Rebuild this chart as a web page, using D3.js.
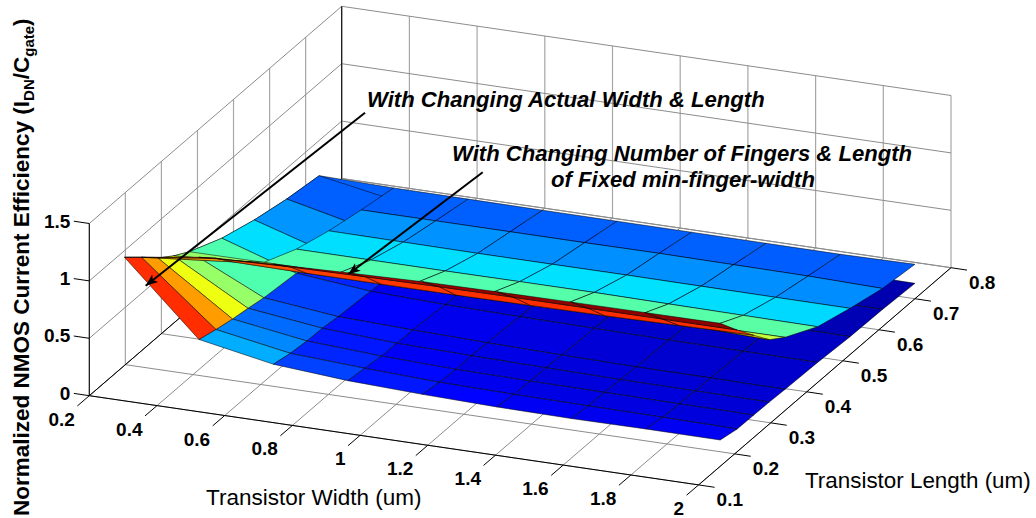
<!DOCTYPE html>
<html>
<head>
<meta charset="utf-8">
<script src="https://cdnjs.cloudflare.com/ajax/libs/d3/7.8.5/d3.min.js"></script>
<style>
  html, body { margin: 0; padding: 0; background: #fff; }
  text { font-family: "Liberation Sans", Arial, sans-serif; fill: #000; }
</style>
</head>
<body>
<div id="chart"></div>
<script>
// tick values
var widthTicks = [0.2, 0.4, 0.6, 0.8, 1, 1.2, 1.4, 1.6, 1.8, 2];
var lengthTicks = [0.1, 0.2, 0.3, 0.4, 0.5, 0.6, 0.7, 0.8];
var effTicks = [0, 0.5, 1, 1.5];

// mesh nodes
var widthNodes = [0.24, 0.46, 0.68, 0.90, 1.12, 1.34, 1.56, 1.78, 2.0];
var lengthNodes = [0.16, 0.207, 0.253, 0.296, 0.34, 0.43, 0.52, 0.61, 0.70];

// surface with changing actual width & length, one row per width node
var effActual = [
  [1.061, 0.934, 0.803, 0.705, 0.623, 0.497, 0.413, 0.352, 0.312],
  [0.440, 0.400, 0.367, 0.344, 0.317, 0.287, 0.215, 0.206, 0.195],
  [0.319, 0.287, 0.270, 0.265, 0.247, 0.225, 0.205, 0.190, 0.180],
  [0.271, 0.252, 0.234, 0.229, 0.226, 0.203, 0.190, 0.175, 0.165],
  [0.247, 0.225, 0.213, 0.216, 0.210, 0.194, 0.180, 0.168, 0.155],
  [0.232, 0.215, 0.206, 0.206, 0.198, 0.187, 0.172, 0.160, 0.150],
  [0.226, 0.210, 0.202, 0.198, 0.190, 0.180, 0.165, 0.155, 0.145],
  [0.230, 0.205, 0.198, 0.195, 0.188, 0.178, 0.160, 0.152, 0.140],
  [0.229, 0.198, 0.195, 0.192, 0.184, 0.175, 0.156, 0.150, 0.134]
];

// surface with changing number of fingers & length
var effFingers = [
  [1.061, 0.934, 0.803, 0.705, 0.623, 0.497, 0.413, 0.352, 0.312],
  [1.156, 1.020, 0.865, 0.750, 0.625, 0.497, 0.413, 0.352, 0.300],
  [1.190, 1.040, 0.860, 0.750, 0.625, 0.497, 0.410, 0.352, 0.298],
  [1.210, 1.050, 0.860, 0.745, 0.625, 0.497, 0.407, 0.352, 0.296],
  [1.228, 1.057, 0.860, 0.740, 0.630, 0.499, 0.407, 0.352, 0.295],
  [1.235, 1.060, 0.865, 0.745, 0.630, 0.500, 0.408, 0.354, 0.294],
  [1.240, 1.060, 0.870, 0.750, 0.632, 0.495, 0.406, 0.350, 0.293],
  [1.243, 1.060, 0.880, 0.755, 0.635, 0.490, 0.404, 0.346, 0.292],
  [1.245, 1.060, 0.890, 0.735, 0.637, 0.486, 0.403, 0.333, 0.300]
];

var width = 1036, height = 518;

var svg = d3.select("#chart").append("svg")
    .attr("width", width)
    .attr("height", height)
    .style("display", "block");

// the view is orthographic, so each data axis is just a screen vector
var originX = 89.3, originY = 395.7;
var wX = d3.scaleLinear().domain([0.2, 2]).range([0, 609.3]);
var wY = d3.scaleLinear().domain([0.2, 2]).range([0, 89.2]);
var lX = d3.scaleLinear().domain([0.1, 0.8]).range([0, 252.4]);
var lY = d3.scaleLinear().domain([0.1, 0.8]).range([0, -217.2]);
var zY = d3.scaleLinear().domain([0, 1.5]).range([0, -172.2]);

function project(w, l, z) {
  return [originX + wX(w) + lX(l), originY + wY(w) + lY(l) + zY(z)];
}

// jet colormap
var jetPos = d3.scaleLinear().domain([0.10, 1.256]).range([0, 1]).clamp(true);
var jet = d3.scaleLinear()
    .domain([0, 0.125, 0.375, 0.625, 0.875, 1])
    .range(["#000080", "#0000ff", "#00ffff", "#ffff00", "#ff0000", "#800000"]);

var poly = d3.line();

function seg(g, a, b, color, sw) {
  g.append("path")
    .attr("d", poly([a, b]))
    .attr("fill", "none")
    .attr("stroke", color)
    .attr("stroke-width", sw);
}

// grid on floor and walls
var grid = svg.append("g");
var gridColor = "#8c8c8c";
widthTicks.forEach(function(w) {
  seg(grid, project(w, 0.1, 0), project(w, 0.8, 0), gridColor, 1);
  seg(grid, project(w, 0.8, 0), project(w, 0.8, 1.5), "#a6a6a6", 1.2);
});
lengthTicks.forEach(function(l) {
  seg(grid, project(0.2, l, 0), project(2, l, 0), gridColor, 1);
  seg(grid, project(0.2, l, 0), project(0.2, l, 1.5), "#a6a6a6", 1.2);
});
effTicks.forEach(function(z) {
  seg(grid, project(0.2, 0.1, z), project(0.2, 0.8, z), gridColor, 1);
  seg(grid, project(0.2, 0.8, z), project(2, 0.8, z), gridColor, 1);
});

// axis lines and tick marks
var axes = svg.append("g");
seg(axes, project(0.2, 0.1, 0), project(2, 0.1, 0), "#000", 1);
seg(axes, project(2, 0.1, 0), project(2, 0.8, 0), "#000", 1);
seg(axes, project(0.2, 0.1, 0), project(0.2, 0.1, 1.5), "#000", 1);
seg(axes, project(0.2, 0.8, 0), project(0.2, 0.8, 1.5), "#000", 1);
seg(axes, project(0.2, 0.1, 0), project(0.2, 0.8, 0), "#000", 1);

widthTicks.forEach(function(w) {
  var p = project(w, 0.1, 0);
  seg(axes, p, [p[0] - 12, p[1] + 10.3], "#000", 1);
  axes.append("text")
    .attr("x", p[0] - 14.5)
    .attr("y", p[1] + 30)
    .attr("text-anchor", "end")
    .attr("font-size", 19)
    .attr("font-weight", "bold")
    .text(w);
});
lengthTicks.forEach(function(l) {
  var p = project(2, l, 0);
  seg(axes, p, [p[0] + 16, p[1] + 2.4], "#000", 1);
  axes.append("text")
    .attr("x", p[0] + 18)
    .attr("y", p[1] + 21.5)
    .attr("font-size", 19)
    .attr("font-weight", "bold")
    .text(l);
});
effTicks.forEach(function(z) {
  var p = project(0.2, 0.1, z);
  seg(axes, p, [p[0] - 15.5, p[1] - 2.3], "#000", 1);
  axes.append("text")
    .attr("x", p[0] - 19)
    .attr("y", p[1] + 4)
    .attr("text-anchor", "end")
    .attr("font-size", 19)
    .attr("font-weight", "bold")
    .text(z);
});

// one mesh cell, coloured by its first corner like matlab does
function drawCell(g, table, i, j) {
  var corners = [
    project(widthNodes[i], lengthNodes[j], table[i][j]),
    project(widthNodes[i + 1], lengthNodes[j], table[i + 1][j]),
    project(widthNodes[i + 1], lengthNodes[j + 1], table[i + 1][j + 1]),
    project(widthNodes[i], lengthNodes[j + 1], table[i][j + 1])
  ];
  g.append("path")
    .attr("d", poly(corners) + "Z")
    .attr("fill", jet(jetPos(table[i][j])))
    .attr("stroke", "#000")
    .attr("stroke-opacity", 0.75)
    .attr("stroke-width", 0.7)
    .attr("stroke-linejoin", "round");
}

var surf = svg.append("g");
var nW = widthNodes.length - 1, nL = lengthNodes.length - 1;
var i, j;

// painter order: low flat sheet, first column of both sheets, then the rest back to front
for (j = nL - 1; j >= 0; j--) {
  for (i = 1; i < nW; i++) drawCell(surf, effActual, i, j);
}
for (j = nL - 1; j >= 4; j--) drawCell(surf, effFingers, 0, j);
for (j = nL - 1; j >= 0; j--) drawCell(surf, effActual, 0, j);
for (j = nL - 1; j >= 0; j--) {
  for (i = (j < 4 ? 0 : 1); i < nW; i++) drawCell(surf, effFingers, i, j);
}

// axis labels
svg.append("text")
    .attr("x", 206)
    .attr("y", 505)
    .attr("font-size", 22.5)
    .text("Transistor Width (um)");

svg.append("text")
    .attr("x", 805)
    .attr("y", 488)
    .attr("font-size", 22.4)
    .text("Transistor Length (um)");

var zLabel = svg.append("text")
    .attr("transform", "translate(29,516) rotate(-90)")
    .attr("font-size", 22.5)
    .attr("font-weight", "bold");
zLabel.append("tspan").text("Normalized NMOS Current Efficiency (I");
zLabel.append("tspan").attr("font-size", 15).attr("dy", 5).text("DN");
zLabel.append("tspan").attr("dy", -5).text("/C");
zLabel.append("tspan").attr("font-size", 15).attr("dy", 5).text("gate");
zLabel.append("tspan").attr("dy", -5).text(")");

// annotations
function note(x, y, anchor, label) {
  svg.append("text")
    .attr("x", x)
    .attr("y", y)
    .attr("text-anchor", anchor)
    .attr("font-size", 22.1)
    .attr("font-weight", "bold")
    .attr("font-style", "italic")
    .text(label);
}
note(367, 107, "start", "With Changing Actual Width & Length");
note(452, 161, "start", "With Changing Number of Fingers & Length");
note(683, 187, "middle", "of Fixed min-finger-width");

function arrow(x0, y0, x1, y1) {
  var a = Math.atan2(y1 - y0, x1 - x0), len = 13, spread = 0.38;
  seg(svg, [x0, y0], [x1, y1], "#000", 2);
  var wing = function(s, r) {
    return [x1 - r * Math.cos(a + s), y1 - r * Math.sin(a + s)];
  };
  svg.append("path")
    .attr("d", poly([[x1, y1], wing(spread, len), wing(0, len * 0.7), wing(-spread, len)]) + "Z")
    .attr("fill", "#000");
}
arrow(365, 112.7, 145.7, 285.7);
arrow(482.7, 172.3, 348.3, 274.3);
</script>
</body>
</html>
